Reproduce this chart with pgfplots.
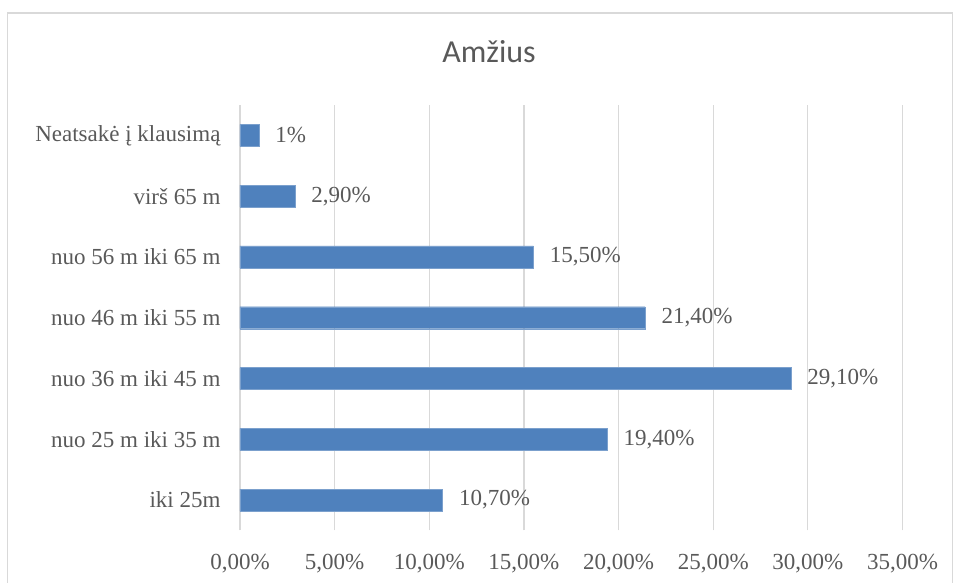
\documentclass[border=0pt]{standalone}
\usepackage{fontspec}
\setmainfont{Liberation Serif}
\newfontfamily\titlefont{Carlito}
\usepackage{pgfplots}
\pgfplotsset{compat=1.18}
\definecolor{barblue}{HTML}{4F81BD}
\definecolor{txtgray}{HTML}{595959}
\definecolor{gridgray}{HTML}{D9D9D9}
\begin{document}
\begin{tikzpicture}[x=1pt,y=1pt]
\useasboundingbox (0,0) rectangle (954,583);
\draw[gridgray, line width=1.2pt] (7.5,-20) -- (7.5,570) -- (952.5,570) -- (952.5,-20);
\node[txtgray, font=\titlefont\fontsize{32}{38}\selectfont] at (489,531) {Amžius};
\begin{axis}[
  at={(240pt,52.5pt)}, anchor=south west,
  scale only axis, width=662.5pt, height=425.5pt,
  xmin=0, xmax=35, ymin=-0.5, ymax=6.5,
  axis line style={draw=none},
  major tick length=0pt,
  xtick={0,5,10,15,20,25,30,35},
  xticklabels={{0,00\%},{5,00\%},{10,00\%},{15,00\%},{20,00\%},{25,00\%},{30,00\%},{35,00\%}},
  ytick={0,1,2,3,4,5,6},
  yticklabels={iki 25m,nuo 25 m iki 35 m,nuo 36 m iki 45 m,nuo 46 m iki 55 m,nuo 56 m iki 65 m,virš 65 m,Neatsakė į klausimą},
  xmajorgrids, ymajorgrids=false,
  grid style={gridgray, line width=1.2pt},
  tick label style={txtgray, font=\fontsize{23}{27}\selectfont},
  xticklabel style={yshift=-20pt},
  yticklabel style={xshift=-16pt},
  clip=false,
]
\addplot[xbar, bar width=22pt, fill=barblue, draw=barblue!75!white,
  point meta=explicit symbolic,
  nodes near coords,
  nodes near coords style={anchor=west, xshift=13pt, txtgray, font=\fontsize{23}{27}\selectfont},
] table[meta=label] {
x y label
10.7 0 10,70\%
19.4 1 19,40\%
29.1 2 29,10\%
21.4 3 21,40\%
15.5 4 15,50\%
2.9 5 2,90\%
1 6 1\%
};
\end{axis}
\end{tikzpicture}
\end{document}
